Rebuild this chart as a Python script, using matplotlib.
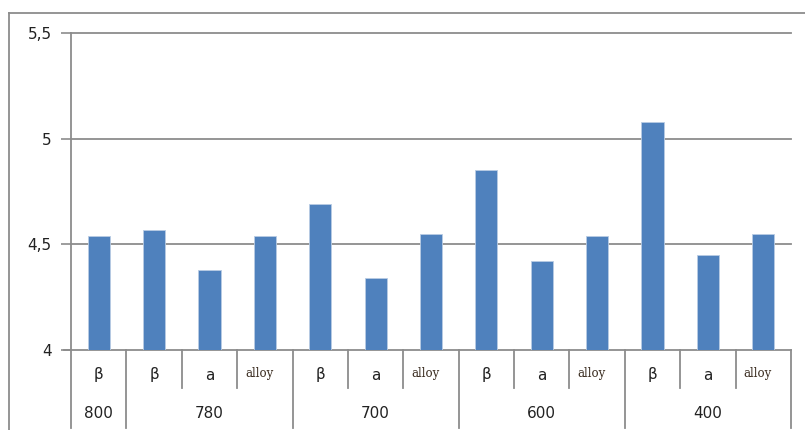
import matplotlib.pyplot as plt
from matplotlib.transforms import blended_transform_factory
from matplotlib.lines import Line2D

# two-level categories: phase under temperature
phases = ['β', 'β', 'a', 'alloy', 'β', 'a', 'alloy', 'β', 'a', 'alloy', 'β', 'a', 'alloy']
temps = ['800', '780', '700', '600', '400']
group_sizes = [1, 3, 3, 3, 3]
values = [4.54, 4.57, 4.38, 4.54, 4.69, 4.34, 4.55, 4.85, 4.42, 4.54, 5.08, 4.45, 4.55]

W, H = 805, 430
fig = plt.figure(figsize=(W / 100, H / 100), dpi=100)
ax = fig.add_axes([71 / W, 1 - 350 / H, 720 / W, 317 / H])

bar_col = '#4F81BD'
grid_col = '#8C8C8C'

x = list(range(len(values)))
ax.bar(x, [v - 4 for v in values], bottom=4, width=0.4, color=bar_col,
       edgecolor='#B8CCE4', linewidth=0.6, zorder=3)

ax.set_xlim(-0.5, len(values) - 0.5)
ax.set_ylim(4, 5.5)
ax.set_yticks([4, 4.5, 5, 5.5])
ax.set_yticklabels(['4', '4,5', '5', '5,5'], fontsize=11, color='#222222')
ax.tick_params(axis='y', length=7, width=1.2, color=grid_col, pad=7)
ax.set_xticks([])
for s in ['top', 'right', 'bottom']:
    ax.spines[s].set_visible(False)
ax.spines['left'].set_color(grid_col)
ax.spines['left'].set_linewidth(1.3)
for yv in [4.5, 5, 5.5]:
    ax.axhline(yv, color=grid_col, lw=1.3, zorder=1, clip_on=False)

# category axis with boxed labels underneath
tr = blended_transform_factory(ax.transData, ax.transAxes)
ax.add_line(Line2D([-0.62, 12.5], [0, 0], transform=tr, color=grid_col, lw=1.3, clip_on=False))

y_short = -38 / 317
y_long = -78 / 317
row1 = -25 / 317
row2 = -63 / 317

bounds = [-0.5]
start = 0
for n in group_sizes:
    start += n
    bounds.append(start - 0.5)

for b in [i - 0.5 for i in range(len(values) + 1)]:
    bottom = y_long if b in bounds else y_short
    ax.add_line(Line2D([b, b], [0, bottom], transform=tr, color=grid_col, lw=1.3, clip_on=False))

for i, p in enumerate(phases):
    if p == 'alloy':
        ax.text(i - 0.1, row1 + 0.005, p, transform=tr, ha='center', va='center',
                fontsize=8.5, family='DejaVu Serif', color='#3a2c20')
    else:
        ax.text(i, row1, p, transform=tr, ha='center', va='center', fontsize=11, color='#222222')

start = 0
for t, n in zip(temps, group_sizes):
    cx = start + (n - 1) / 2
    ax.text(cx, row2, t, transform=tr, ha='center', va='center', fontsize=11, color='#222222')
    start += n

# outer chart frame
fig.add_artist(Line2D([8.5 / W, 8.5 / W], [0, 1 - 12.5 / H], transform=fig.transFigure, color='#8C8C8C', lw=1.3))
fig.add_artist(Line2D([8.5 / W, 1], [1 - 12.5 / H, 1 - 12.5 / H], transform=fig.transFigure, color='#8C8C8C', lw=1.3))

fig.savefig('out.png', dpi=100)
